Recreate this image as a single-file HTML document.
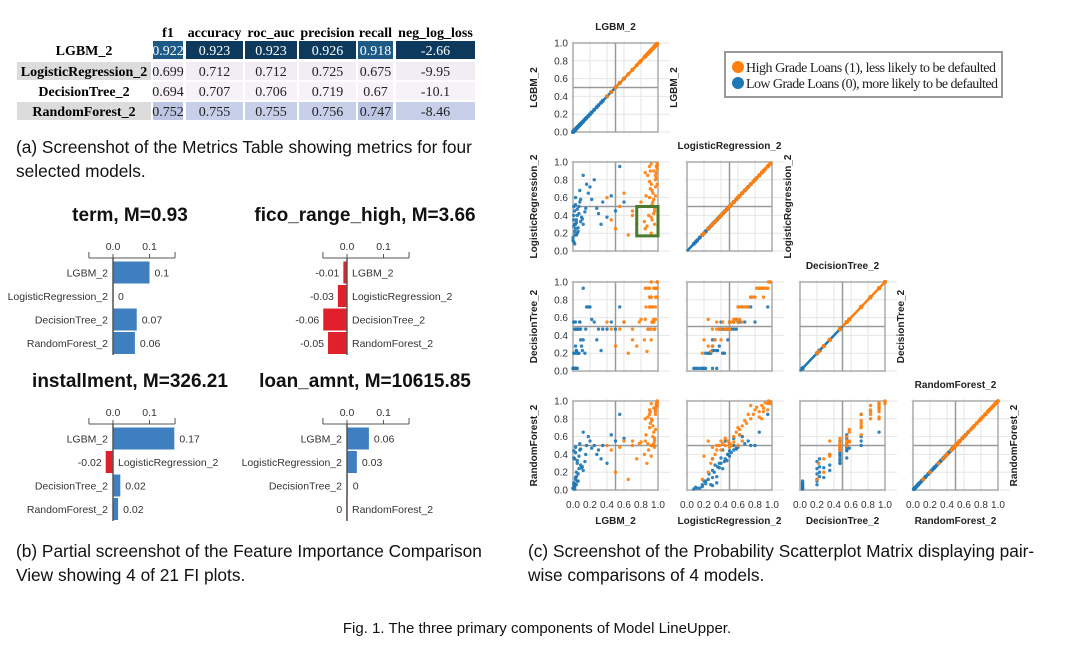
<!DOCTYPE html>
<html><head><meta charset="utf-8"><style>
html,body{margin:0;padding:0;background:#fff;}
svg{display:block;}
.cap{font-family:"Liberation Sans",sans-serif;font-size:17.3px;fill:#111;}
.tb{font-family:"Liberation Serif",serif;font-weight:bold;font-size:14px;}
.tv{font-family:"Liberation Serif",serif;font-size:14px;}
.fit{font-family:"Liberation Sans",sans-serif;font-weight:bold;font-size:19px;fill:#111;}
.fil{font-family:"Liberation Sans",sans-serif;font-size:10.5px;fill:#333;}
.sl{font-family:"Liberation Sans",sans-serif;font-size:10px;fill:#333;}
.st{font-family:"Liberation Sans",sans-serif;font-size:10px;font-weight:bold;fill:#222;}
.lg{font-family:"Liberation Serif",serif;font-size:14px;fill:#222;}
</style></head><body>
<svg id="fig" width="1074" height="653" xmlns="http://www.w3.org/2000/svg">
<g id="table"></g>
<text class="cap" x="16" y="153">(a) Screenshot of the Metrics Table showing metrics for four</text>
<text class="cap" x="16" y="177">selected models.</text>
<g id="fi"></g>
<text class="cap" x="16" y="557">(b) Partial screenshot of the Feature Importance Comparison</text>
<text class="cap" x="16" y="581">View showing 4 of 21 FI plots.</text>
<g id="spm"></g>
<g>
<rect x="725" y="52" width="277" height="45" fill="#fff" stroke="#999" stroke-width="2"/>
<circle cx="738" cy="67" r="6" fill="#ff7f0e"/>
<text class="lg" x="746" y="72" textLength="250">High Grade Loans (1), less likely to be defaulted</text>
<circle cx="738" cy="83" r="6" fill="#1f77b4"/>
<text class="lg" x="746" y="88" textLength="252">Low Grade Loans (0), more likely to be defaulted</text>
</g>
<text class="cap" x="528" y="557">(c) Screenshot of the Probability Scatterplot Matrix displaying pair-</text>
<text class="cap" x="528" y="581">wise comparisons of 4 models.</text>
<text class="cap" x="537" y="633" text-anchor="middle" style="font-size:15px">Fig. 1.  The three primary components of Model LineUpper.</text>
</svg>
<script>
const NS="http://www.w3.org/2000/svg";
// ---- table data ----
const metricNames=["f1","accuracy","roc_auc","precision","recall","neg_log_loss"];
const modelNames=["LGBM_2","LogisticRegression_2","DecisionTree_2","RandomForest_2"];
const metricValues=[["0.922","0.923","0.923","0.926","0.918","-2.66"],["0.699","0.712","0.712","0.725","0.675","-9.95"],["0.694","0.707","0.706","0.719","0.67","-10.1"],["0.752","0.755","0.755","0.756","0.747","-8.46"]];
// ---- FI data ----
const fiTitles=["term, M=0.93","fico_range_high, M=3.66","installment, M=326.21","loan_amnt, M=10615.85"];
const fiTerm=[0.1,0,0.065,0.06];
const fiFico=[-0.01,-0.025,-0.065,-0.052];
const fiInstall=[0.168,-0.02,0.02,0.014];
const fiLoan=[0.06,0.027,0.002,-0.002];
const fiTermLbl=["0.1","0","0.07","0.06"];
const fiFicoLbl=["-0.01","-0.03","-0.06","-0.05"];
const fiInstallLbl=["0.17","-0.02","0.02","0.02"];
const fiLoanLbl=["0.06","0.03","0","0"];
const fiTicks=[0,0.1];
const fiTickLbl=["0.0","0.1"];
// ---- scatter data (per-sample predicted probabilities) ----
const sampleClass=[0,0,0,0,0,0,0,0,0,0,0,0,0,0,0,0,0,0,0,0,0,0,0,0,0,0,0,0,0,0,0,0,0,0,0,0,0,0,0,0,0,0,0,0,0,0,0,0,0,0,1,1,1,1,1,1,1,1,1,1,1,1,1,1,1,1,1,1,1,1,1,1,1,1,1,1,1,1,1,1,1,1,1,1,1,1,1,1,1,1,1,1,1,1,1,1,1,1,1,1];
const lgbmProb=[.02,.01,.03,.05,.00,.02,.08,.04,.01,.10,.15,.06,.03,.20,.12,.02,.07,.25,.30,.01,.04,.18,.35,.45,.02,.09,.05,.14,.40,.55,.03,.01,.06,.22,.11,.00,.08,.28,.50,.03,.60,.16,.02,.05,.07,.12,.01,.33,.04,.09,
.95,.98,.92,.90,.97,.88,.93,.96,.85,.99,.91,.94,.89,.97,.70,.60,.75,.55,.92,.98,.86,.95,.90,.99,.65,.80,.93,.96,.40,.88,.97,.92,.99,.84,.95,.91,.45,.98,.87,.94,.78,.96,.90,.99,.50,.93,.97,.85,.92,.70];
const lrProb=[.30,.35,.25,.40,.15,.45,.55,.32,.10,.38,.48,.22,.60,.72,.30,.18,.50,.80,.42,.28,.35,.65,.55,.62,.08,.33,.20,.44,.38,.95,.52,.40,.26,.58,.36,.12,.68,.48,.45,.30,.55,.75,.22,.47,.42,.85,.50,.30,.18,.58,
.90,.95,.75,.60,.85,.50,.35,.30,.25,.98,.70,.55,.40,.80,.45,.65,.30,.50,.20,.88,.62,.42,.78,.92,.18,.55,.68,.48,.60,.85,.72,.38,.96,.33,.58,.90,.35,.82,.28,.65,.50,.45,.95,.75,.25,.52,.62,.88,.98,.40];
const dtProb=[.03,.03,.20,.47,.03,.47,.55,.23,.03,.28,.47,.20,.55,.72,.35,.03,.47,.55,.47,.20,.23,.72,.47,.55,.03,.35,.03,.20,.47,.72,.47,.55,.20,.58,.23,.03,.55,.35,.47,.28,.55,.72,.03,.47,.20,.93,.55,.23,.03,.47,
.93,.93,.83,.72,.93,.47,.55,.47,.58,1.0,.72,.55,.47,.83,.47,.55,.28,.47,.35,.93,.72,.55,.83,.93,.20,.58,.72,.47,.55,.93,.72,.47,1.0,.35,.58,.83,.47,.93,.22,.72,.55,.47,.93,.83,.28,.55,.58,.93,1.0,.35];
const rfProb=[.05,.08,.12,.30,.02,.35,.45,.20,.03,.25,.40,.10,.48,.55,.22,.04,.38,.50,.45,.06,.15,.60,.50,.62,.01,.28,.10,.32,.30,.85,.42,.36,.18,.47,.26,.02,.52,.40,.55,.14,.58,.50,.07,.33,.24,.65,.44,.35,.06,.46,
.92,.97,.80,.70,.88,.52,.50,.48,.55,.99,.75,.60,.45,.90,.50,.55,.35,.48,.38,.95,.62,.52,.85,.98,.12,.54,.78,.55,.50,.82,.85,.50,1.0,.40,.65,.88,.45,.93,.30,.72,.52,.58,.90,.95,.20,.50,.68,.80,.97,.55];
const spmTicks=[0,0.2,0.4,0.6,0.8,1.0];
const spmTickLbl=["0.0","0.2","0.4","0.6","0.8","1.0"];

function mk(tag,attrs,parent,txt){const e=document.createElementNS(NS,tag);for(const k in attrs)e.setAttribute(k,attrs[k]);if(txt!==undefined)e.textContent=txt;parent.appendChild(e);return e;}

// ---- table ----
const tbl=document.getElementById('table');
const colX=[153,186,245,299,358,396],colW=[30,57,52,57,35,79];
const rowY=[41,62,82,102],rowH=18;
const fills=[["#1d5a86","#0d3a5c","#0d3a5c","#0d3a5c","#1d5a86","#0d3a5c"],["#f2ecf4","#f2ecf4","#f2ecf4","#f2ecf4","#f2ecf4","#f2ecf4"],["#f6f2f7","#f6f2f7","#f6f2f7","#f6f2f7","#f6f2f7","#f6f2f7"],["#bcc5e2","#c8cfe8","#c8cfe8","#c8cfe8","#bcc5e2","#c8cfe8"]];
metricNames.forEach((m,j)=>{const t=mk('text',{class:'tb',x:colX[j]+colW[j]/2,y:37,'text-anchor':'middle'},tbl,m);

});
modelNames.forEach((n,i)=>{
 if(i%2==1){const r=mk('rect',{x:17,y:rowY[i],width:134,height:rowH,fill:'#dcdcdc'},tbl);}
 const t=mk('text',{class:'tb',x:84,y:rowY[i]+14,'text-anchor':'middle'},tbl,n);
 
 
 metricValues[i].forEach((v,j)=>{
  const r=mk('rect',{x:colX[j],y:rowY[i],width:colW[j],height:rowH,fill:fills[i][j]},tbl);
  
  
  const c=mk('text',{class:'tv',x:colX[j]+colW[j]/2,y:rowY[i]+14,'text-anchor':'middle',fill:i==0?'#fff':'#222'},tbl,v);
  
  
 });
});

// ---- FI plots ----
const fiG=document.getElementById('fi');
const fiData=[fiTerm,fiFico,fiInstall,fiLoan],fiLbls=[fiTermLbl,fiFicoLbl,fiInstallLbl,fiLoanLbl];
const panels=[{z:113,tx:130,ty:221,ay:258},{z:347,tx:365,ty:221,ay:258},{z:113,tx:130,ty:387,ay:424},{z:347,tx:365,ty:387,ay:424}];
const fiScale=365; // px per unit
fiData.forEach((vals,p)=>{
 const P=panels[p];const g=mk('g',{},fiG);
 
 
 const xs=v=>P.z+v*fiScale;
 const t=mk('text',{class:'fit',x:P.tx,y:P.ty,'text-anchor':'middle'},g,fiTitles[p]);
 
 
 const x0=xs(-0.066),x1=xs(0.17);
 mk('line',{x1:x0,x2:x1,y1:P.ay,y2:P.ay,stroke:'#555','stroke-width':1},g);
 [x0,x1].forEach(x=>mk('line',{x1:x,x2:x,y1:P.ay-6,y2:P.ay,stroke:'#555'},g));
 fiTicks.forEach((tv,k)=>{mk('line',{x1:xs(tv),x2:xs(tv),y1:P.ay-4,y2:P.ay,stroke:'#555'},g);
  const tl=mk('text',{class:'fil',x:xs(tv),y:P.ay-8,'text-anchor':'middle'},g,fiTickLbl[k]);
  
  });
 const band=23.5,top=P.ay+3;
 vals.forEach((v,i)=>{
  const y=top+i*band,cy=y+band/2;
  const bx=Math.min(xs(0),xs(v)),bw=Math.abs(xs(v)-xs(0));
  const b=mk('rect',{x:bx,y:y+0.5,width:Math.max(bw,0.6),height:band-1.5,fill:v>=0?'#3f7fbf':'#e0202a'},g);
  
  
  let ml,vl;
  if(v>=0){ml=mk('text',{class:'fil',x:xs(0)-5,y:cy+3.5,'text-anchor':'end'},g,modelNames[i]);
   vl=mk('text',{class:'fil',x:xs(v)+5,y:cy+3.5},g,fiLbls[p][i]);}
  else{ml=mk('text',{class:'fil',x:xs(0)+5,y:cy+3.5},g,modelNames[i]);
   vl=mk('text',{class:'fil',x:xs(v)-4,y:cy+3.5,'text-anchor':'end'},g,fiLbls[p][i]);}
  
  
  
  
 });
 mk('line',{x1:xs(0),x2:xs(0),y1:P.ay,y2:top+4*band,stroke:'#555','stroke-width':1.5},g);
});

// ---- scatterplot matrix ----
const spm=document.getElementById('spm');
const probs=[lgbmProb,lrProb,dtProb,rfProb];
const cX=[573,687,800,913],cY=[43,162,282,401],cW=85,cH=89;
for(let r=0;r<4;r++){for(let c=0;c<=r;c++){
 const g=mk('g',{},spm);
 
 
 const X=v=>cX[c]+v*cW,Y=v=>cY[r]+cH-v*cH;
 spmTicks.forEach(t=>{mk('line',{x1:X(t),x2:X(t),y1:cY[r]-2,y2:cY[r]+cH+2,stroke:'#e6e6e6'},g);
  mk('line',{x1:cX[c]-2,x2:cX[c]+cW+12,y1:Y(t),y2:Y(t),stroke:'#e6e6e6'},g);});
 mk('rect',{x:cX[c],y:cY[r],width:cW,height:cH,fill:'none',stroke:'#aaa','stroke-width':1.5},g);
 mk('line',{x1:X(0.5),x2:X(0.5),y1:cY[r],y2:cY[r]+cH,stroke:'#999','stroke-width':1.5},g);
 mk('line',{x1:cX[c],x2:cX[c]+cW,y1:Y(0.5),y2:Y(0.5),stroke:'#999','stroke-width':1.5},g);
 if(r==c){const dl=mk('line',{x1:X(0),y1:Y(0),x2:X(0.5),y2:Y(0.5),stroke:'#1f77b4','stroke-width':2.5},g);
  
  
  const dh=mk('line',{x1:X(0.5),y1:Y(0.5),x2:X(1),y2:Y(1),stroke:'#ff7f0e','stroke-width':2.5},g);
  
  }
 const xa=probs[c],ya=probs[r];
 xa.forEach((v,i)=>{const d=mk('circle',{cx:X(v),cy:Y(ya[i]),r:r==c?2:1.7,fill:sampleClass[i]?'#ff7f0e':'#1f77b4','fill-opacity':0.9},g);
  
  });
 if(r==1&&c==0){const sel=mk('rect',{x:X(0.75),y:Y(0.5),width:X(1)-X(0.75),height:Y(0.17)-Y(0.5),fill:'none',stroke:'#4c7a2c','stroke-width':3},g);
  
  }
 if(c==0){spmTicks.forEach((t,k)=>{const l=mk('text',{class:'sl',x:cX[0]-5,y:Y(t)+3.5,'text-anchor':'end'},g,spmTickLbl[k]);
  
  });
  const yt=mk('text',{class:'st',transform:'translate(537,'+(cY[r]+cH/2)+') rotate(-90)','text-anchor':'middle'},g,modelNames[r]);
  
  }
 if(r==3){spmTicks.forEach((t,k)=>{const l=mk('text',{class:'sl',x:X(t),y:508,'text-anchor':'middle'},g,spmTickLbl[k]);
  
  });
  const xt=mk('text',{class:'st',x:cX[c]+cW/2,y:524,'text-anchor':'middle'},g,modelNames[c]);
  
  }
 if(r==c){const tt=mk('text',{class:'st',x:cX[c]+cW/2,y:cY[r]-13,'text-anchor':'middle'},g,modelNames[c]);
  
  
  const rt=mk('text',{class:'st',transform:'translate('+(cX[c]+cW+19)+','+(cY[r]+cH/2)+') rotate(-90)','text-anchor':'middle'},g,modelNames[r]);
  
  }
}}
</script>
</body></html>
